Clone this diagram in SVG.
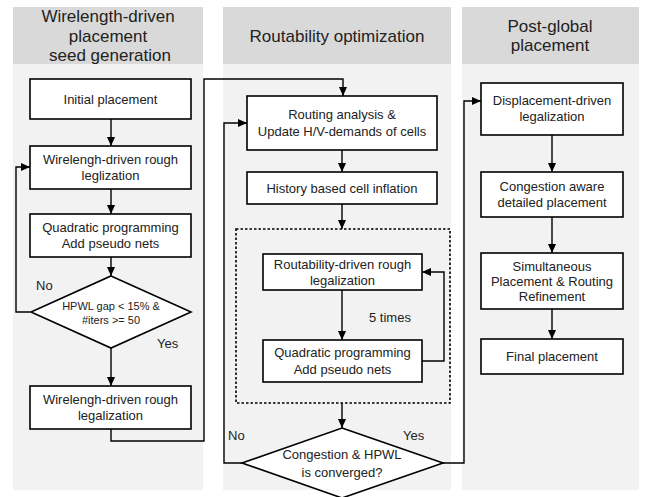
<svg xmlns="http://www.w3.org/2000/svg" width="651" height="497" viewBox="0 0 651 497">
<defs>
<marker id="ah" markerUnits="userSpaceOnUse" markerWidth="9" markerHeight="8" refX="9" refY="4" orient="auto">
<path d="M0,0 L9,4 L0,8 z" fill="#000"/>
</marker>
<style>
.panel{fill:#f2f2f2}
.head{fill:#d9d9d9}
.ht{font-family:"Liberation Sans",Arial,sans-serif;font-size:17px;fill:#222;text-anchor:middle}
.box{fill:#fff;stroke:#000;stroke-width:1.6}
.t{font-family:"Liberation Sans",Arial,sans-serif;font-size:13px;fill:#222;text-anchor:middle}
.ts{font-family:"Liberation Sans",Arial,sans-serif;font-size:11px;fill:#222;text-anchor:middle}
.lbl{font-family:"Liberation Sans",Arial,sans-serif;font-size:13px;fill:#222}
.c{fill:none;stroke:#000;stroke-width:1.4;marker-end:url(#ah)}
.cn{fill:none;stroke:#000;stroke-width:1.4}
.dash{fill:none;stroke:#000;stroke-width:1.6;stroke-dasharray:2.5,2}
</style>
</defs>
<g id="panels">
<rect class="panel" x="13" y="7" width="190" height="483"/>
<rect class="head" x="13" y="7" width="190" height="57"/>
<rect class="panel" x="223" y="7" width="228" height="483"/>
<rect class="head" x="223" y="7" width="228" height="57"/>
<rect class="panel" x="462" y="7" width="177" height="483"/>
<rect class="head" x="462" y="7" width="177" height="57"/>
<text class="ht" x="108" y="22">Wirelength-driven</text>
<text class="ht" x="108" y="42">placement</text>
<text class="ht" x="110" y="61">seed generation</text>
<text class="ht" x="337" y="42">Routability optimization</text>
<text class="ht" x="550" y="32">Post-global</text>
<text class="ht" x="550" y="51">placement</text>
</g>
<g id="connectors">
<path class="c" d="M111,119 V146"/>
<path class="c" d="M111,189 V214"/>
<path class="c" d="M111,257 V276"/>
<path class="c" d="M111,348 V386"/>
<path class="c" d="M30,312 H16 V167 H30"/>
<path class="c" d="M111,429 V441 H204 V79 H343 V96"/>
<path class="c" d="M342,150 V172"/>
<path class="c" d="M342,204 V229"/>
<path class="c" d="M342,290 V340"/>
<path class="c" d="M422,361 H444 V272 H422"/>
<path class="c" d="M342,403 V428"/>
<path class="c" d="M242,463 H224 V123 H247"/>
<path class="c" d="M443,463 H464 V101 H481"/>
<path class="c" d="M552,135 V172"/>
<path class="c" d="M552,217 V253"/>
<path class="c" d="M552,309 V339"/>
<text class="lbl" x="36" y="290">No</text>
<text class="lbl" x="157" y="348">Yes</text>
<text class="lbl" x="228" y="440">No</text>
<text class="lbl" x="403" y="440">Yes</text>
<text class="lbl" x="369" y="322">5 times</text>
</g>
<g id="initial-placement">
<rect class="box" x="30" y="79" width="161" height="40"/>
<text class="t" x="110.5" y="104">Initial placement</text>
</g>
<g id="wl-rough-leg-1">
<rect class="box" x="30" y="146" width="161" height="43"/>
<text class="t" x="110.5" y="164">Wirelengh-driven rough</text>
<text class="t" x="110.5" y="180">leglization</text>
</g>
<g id="qp-1">
<rect class="box" x="30" y="214" width="161" height="43"/>
<text class="t" x="110.5" y="232">Quadratic programming</text>
<text class="t" x="110.5" y="248">Add pseudo nets</text>
</g>
<g id="hpwl-check">
<polygon class="box" points="111,276 191,312 111,348 31,312"/>
<text class="ts" x="111" y="310">HPWL gap &lt; 15% &amp;</text>
<text class="ts" x="111" y="324">#iters &gt;= 50</text>
</g>
<g id="wl-rough-leg-2">
<rect class="box" x="30" y="386" width="161" height="43"/>
<text class="t" x="110.5" y="404">Wirelengh-driven rough</text>
<text class="t" x="110.5" y="420">legalization</text>
</g>
<g id="routing-analysis">
<rect class="box" x="247" y="96" width="190" height="54"/>
<text class="t" x="342" y="119">Routing analysis &amp;</text>
<text class="t" x="342" y="136">Update H/V-demands of cells</text>
</g>
<g id="cell-inflation">
<rect class="box" x="247" y="172" width="190" height="32"/>
<text class="t" x="342" y="193">History based cell inflation</text>
</g>
<g id="inner-loop">
<rect class="dash" x="236" y="229" width="214" height="174"/>
</g>
<g id="rd-rough-leg">
<rect class="box" x="263" y="254" width="159" height="36"/>
<text class="t" x="342.5" y="269">Routability-driven rough</text>
<text class="t" x="342.5" y="285">legalization</text>
</g>
<g id="qp-2">
<rect class="box" x="263" y="340" width="159" height="42"/>
<text class="t" x="342.5" y="357">Quadratic programming</text>
<text class="t" x="342.5" y="374">Add pseudo nets</text>
</g>
<g id="converged-check">
<polygon class="box" points="342,428 443,463 342,498 242,463"/>
<text class="t" x="342" y="459">Congestion &amp; HPWL</text>
<text class="t" x="342" y="477">is converged?</text>
</g>
<g id="displacement-leg">
<rect class="box" x="481" y="83" width="142" height="52"/>
<text class="t" x="552" y="105">Displacement-driven</text>
<text class="t" x="552" y="121">legalization</text>
</g>
<g id="detailed-placement">
<rect class="box" x="481" y="172" width="142" height="45"/>
<text class="t" x="552" y="191">Congestion aware</text>
<text class="t" x="552" y="207">detailed placement</text>
</g>
<g id="spr-refinement">
<rect class="box" x="481" y="253" width="142" height="56"/>
<text class="t" x="552" y="271">Simultaneous</text>
<text class="t" x="552" y="286">Placement &amp; Routing</text>
<text class="t" x="552" y="301">Refinement</text>
</g>
<g id="final-placement">
<rect class="box" x="481" y="339" width="142" height="35"/>
<text class="t" x="552" y="361">Final placement</text>
</g>
</svg>
